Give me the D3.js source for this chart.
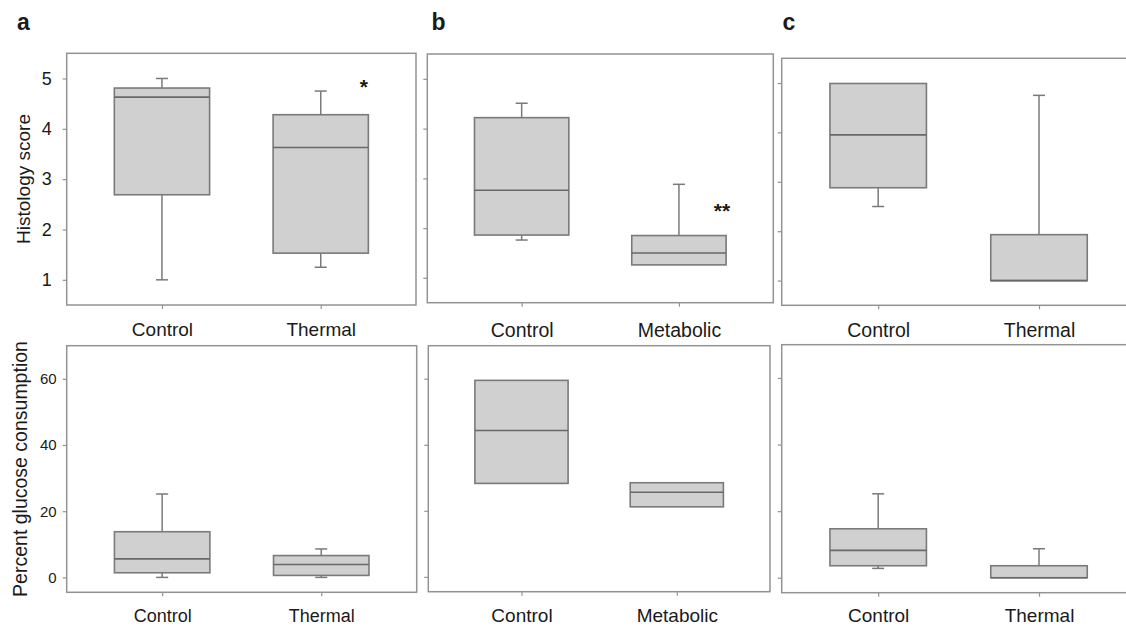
<!DOCTYPE html>
<html><head><meta charset="utf-8">
<script src="https://cdn.jsdelivr.net/npm/d3@7"></script>
<style>
body{margin:0;background:#fff}
svg{display:block}
text{font-family:"Liberation Sans",Arial,Helvetica,sans-serif;fill:#1a1a1a}
</style>
</head><body>
<svg id="chart" width="1126" height="626"></svg>
<script>
// ---------------- data ----------------
const catsA = ["Control", "Thermal"];
const catsB = ["Control", "Metabolic"];
const catsC = ["Control", "Thermal"];
// each row: [lower whisker, Q1, median, Q3, upper whisker]
const histA = [[1.0, 2.69, 4.63, 4.81, 5.0], [1.25, 1.53, 3.63, 4.28, 4.75]];
const histB = [[1.76, 1.86, 2.76, 4.22, 4.51], [1.26, 1.26, 1.5, 1.85, 2.88]];
const histC = [[2.5, 2.88, 3.95, 4.99, 4.99], [1.0, 1.0, 1.0, 1.93, 4.75]];
const glucA = [[0, 1.4, 5.6, 13.8, 25.2], [0, 0.6, 3.9, 6.6, 8.6]];
const glucB = [[28.3, 28.3, 44.3, 59.5, 59.5], [21.2, 21.2, 25.6, 28.5, 28.5]];
const glucC = [[2.8, 3.6, 8.2, 14.7, 25.2], [0, 0, 0, 3.6, 8.7]];
const histTicks = [1, 2, 3, 4, 5];
const glucTicks = [0, 20, 40, 60];
const histDomain = [0.5, 5.5];
const glucDomain = [-4.5, 70];
const panelLetters = ["a", "b", "c"];
const yTitles = ["Histology score", "Percent glucose consumption"];
const sigMarks = [["*", 1, 4.7], ["**", 1, 2.2]]; // [text, category index, y value of baseline]

// ---------------- drawing ----------------
const svg = d3.select("#chart");
const FRAME = "#939393", BOX = "#7a7a7a", FILL = "#d0d0d0";

function panel(o) {
  const g = svg.append("g");
  const x = d3.scalePoint().domain(o.cats).range([o.x0, o.x1]).padding(0.6);
  const y = d3.scaleLinear().domain(o.domain).range([o.y1, o.y0]);
  const bw = x.step() * 0.6;
  const cap = 12;

  g.append("rect").attr("x", o.x0).attr("y", o.y0)
    .attr("width", o.x1 - o.x0).attr("height", o.y1 - o.y0)
    .attr("fill", "none").attr("stroke", FRAME).attr("stroke-width", 1.5);

  const ya = d3.axisLeft(y).tickValues(o.ticks).tickSize(4).tickPadding(o.tickPad)
    .tickFormat(o.tickLabels ? d3.format("d") : () => "");
  const yg = g.append("g").attr("transform", `translate(${o.x0},0)`).call(ya);
  yg.select(".domain").remove();
  yg.selectAll(".tick line").attr("stroke", FRAME).attr("stroke-width", 1.2);
  yg.selectAll(".tick text").attr("font-size", o.tickFont).attr("fill", "#1a1a1a")
    .attr("font-family", '"Liberation Sans",Arial,sans-serif');

  const xa = d3.axisBottom(x).tickSize(4).tickPadding(o.labelPad);
  const xg = g.append("g").attr("transform", `translate(0,${o.y1})`).call(xa);
  xg.select(".domain").remove();
  xg.selectAll(".tick line").attr("stroke", FRAME).attr("stroke-width", 1.2);
  xg.selectAll(".tick text").attr("font-size", o.labelFont).attr("fill", "#1a1a1a")
    .attr("font-family", '"Liberation Sans",Arial,sans-serif');

  o.data.forEach((d, i) => {
    const cx = x(o.cats[i]);
    const [lo, q1, med, q3, hi] = d;
    const bg = g.append("g");
    if (hi > q3) {
      bg.append("line").attr("x1", cx).attr("x2", cx).attr("y1", y(q3)).attr("y2", y(hi))
        .attr("stroke", BOX).attr("stroke-width", 1.5);
      bg.append("line").attr("x1", cx - cap / 2).attr("x2", cx + cap / 2).attr("y1", y(hi)).attr("y2", y(hi))
        .attr("stroke", BOX).attr("stroke-width", 1.5);
    }
    if (lo < q1) {
      bg.append("line").attr("x1", cx).attr("x2", cx).attr("y1", y(q1)).attr("y2", y(lo))
        .attr("stroke", BOX).attr("stroke-width", 1.5);
      bg.append("line").attr("x1", cx - cap / 2).attr("x2", cx + cap / 2).attr("y1", y(lo)).attr("y2", y(lo))
        .attr("stroke", BOX).attr("stroke-width", 1.5);
    }
    bg.append("rect").attr("x", cx - bw / 2).attr("y", y(q3))
      .attr("width", bw).attr("height", y(q1) - y(q3))
      .attr("fill", FILL).attr("stroke", BOX).attr("stroke-width", 1.6);
    bg.append("line").attr("x1", cx - bw / 2).attr("x2", cx + bw / 2).attr("y1", y(med)).attr("y2", y(med))
      .attr("stroke", "#686868").attr("stroke-width", 1.6);
  });

  if (o.sig) {
    g.append("text").attr("x", x(o.cats[o.sig[1]]) + 43).attr("y", y(o.sig[2]))
      .attr("text-anchor", "middle").attr("font-size", 21).attr("font-weight", "bold")
      .text(o.sig[0]);
  }
  return {x, y};
}

// top row
panel({x0: 66.7, x1: 416, y0: 53.3, y1: 305, cats: catsA, data: histA, domain: histDomain,
  ticks: histTicks, tickLabels: true, tickFont: 18, tickPad: 11, labelFont: 19, labelPad: 14, sig: sigMarks[0]});
panel({x0: 427.3, x1: 773.3, y0: 54, y1: 302.7, cats: catsB, data: histB, domain: histDomain,
  ticks: histTicks, tickLabels: false, tickFont: 18, tickPad: 11, labelFont: 19.5, labelPad: 16, sig: sigMarks[1]});
panel({x0: 781.7, x1: 1135.5, y0: 58.3, y1: 305.3, cats: catsC, data: histC, domain: histDomain,
  ticks: histTicks, tickLabels: false, tickFont: 18, tickPad: 11, labelFont: 19.5, labelPad: 14});

// bottom row
panel({x0: 66.7, x1: 416.7, y0: 345.7, y1: 592.3, cats: catsA, data: glucA, domain: glucDomain,
  ticks: glucTicks, tickLabels: true, tickFont: 15, tickPad: 6, labelFont: 18, labelPad: 13});
panel({x0: 428.3, x1: 770, y0: 345.7, y1: 591.7, cats: catsB, data: glucB, domain: glucDomain,
  ticks: glucTicks, tickLabels: false, tickFont: 15, tickPad: 6, labelFont: 19, labelPad: 13});
panel({x0: 781.7, x1: 1135.5, y0: 344.7, y1: 592.7, cats: catsC, data: glucC, domain: glucDomain,
  ticks: glucTicks, tickLabels: false, tickFont: 15, tickPad: 6, labelFont: 19, labelPad: 12});

// y titles
svg.append("text").attr("transform", "translate(29.5,179) rotate(-90)")
  .attr("text-anchor", "middle").attr("font-size", 19).text(yTitles[0]);
svg.append("text").attr("transform", "translate(27,469) rotate(-90)")
  .attr("text-anchor", "middle").attr("font-size", 19.5).text(yTitles[1]);

// panel letters
const letterX = [17, 431.5, 782.5];
panelLetters.forEach((l, i) => {
  svg.append("text").attr("x", letterX[i]).attr("y", 30).attr("font-size", 23)
    .attr("font-weight", "bold").text(l);
});
</script>
</body></html>
